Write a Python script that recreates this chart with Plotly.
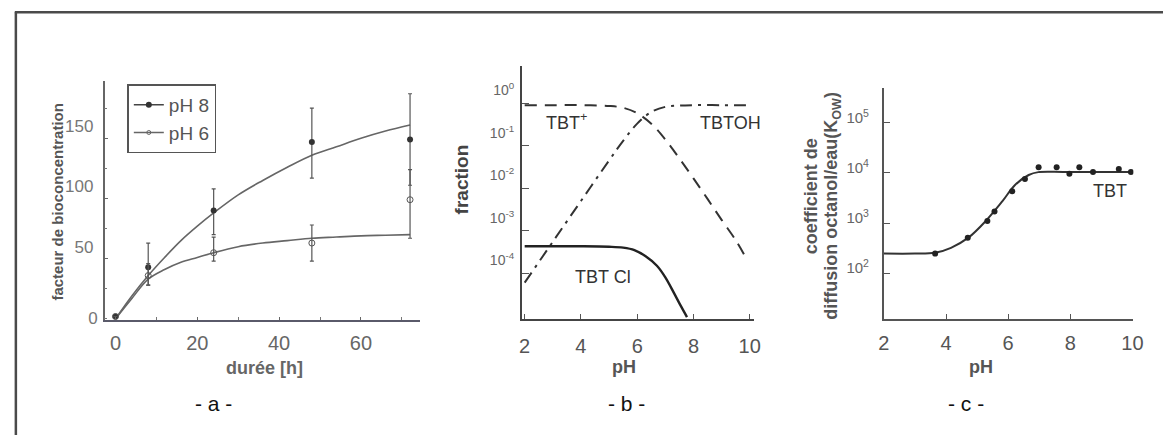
import plotly.graph_objects as go

W, H = 1173, 443

# ---------------- Panel a data ----------------
t_obs = [0, 8, 24, 48, 72]
bcf_ph8 = [2, 43, 90, 147, 149]
bcf_ph8_plus = [0, 20, 18, 28, 38]
bcf_ph8_minus = [0, 15, 20, 30, 38]
bcf_ph6 = [2, 36, 55, 63, 99]
bcf_ph6_plus = [0, 10, 13, 15, 25]
bcf_ph6_minus = [0, 8, 7, 15, 32]

t_fit = [0, 4, 8, 12, 16, 20, 24, 30, 36, 42, 48, 54, 60, 66, 72]
fit_ph8 = [0, 19, 36, 51, 65, 77, 88, 103, 115, 126, 136, 143, 150, 156, 161]
fit_ph6 = [0, 17, 33, 41, 47, 51, 55, 60, 63, 65, 67, 68, 69, 69.5, 70]

a_xticks = [0, 20, 40, 60]
a_yticks = [50, 100, 150]
a_yzero = [0]

# ---------------- Panel b data ----------------
ph_plus = [2, 3, 4, 5, 5.5, 6, 6.5, 7, 7.5, 8, 8.5, 9, 9.5, 9.9]
frac_plus = [0.9, 0.9, 0.9, 0.86, 0.78, 0.58, 0.33, 0.14, 0.05, 0.017, 0.0056, 0.0018, 0.0006, 0.00021]
ph_oh = [2, 3, 4, 5, 5.5, 6, 6.5, 7, 7.5, 8, 9, 10]
frac_oh = [6e-5, 5.5e-4, 5e-3, 0.045, 0.13, 0.33, 0.62, 0.82, 0.88, 0.9, 0.9, 0.9]
ph_cl = [2, 3, 4, 5, 5.5, 5.9, 6.3, 6.7, 7.0, 7.3, 7.55, 7.77]
frac_cl = [4.3e-4, 4.3e-4, 4.3e-4, 4.2e-4, 4.0e-4, 3.5e-4, 2.5e-4, 1.5e-4, 8e-5, 3.5e-5, 1.7e-5, 9.3e-6]

b_xticks = [2, 4, 6, 8, 10]
b_yticks = [1, 0.1, 0.01, 0.001, 0.0001]
b_yticktext = ["10<sup>0</sup>", "10<sup>-1</sup>", "10<sup>-2</sup>", "10<sup>-3</sup>", "10<sup>-4</sup>"]

# ---------------- Panel c data ----------------
ph_kow = [3.65, 4.7, 5.33, 5.56, 6.13, 6.54, 6.98, 7.56, 7.97, 8.29, 8.73, 9.56, 9.95]
kow_obs = [245, 510, 1100, 1700, 4300, 7600, 13000, 13000, 9600, 13000, 10500, 12000, 10500]
ph_kfit = [2.0, 3.0, 3.65, 4.16, 4.72, 5.28, 5.81, 6.22, 6.66, 6.97, 7.78, 9.0, 10.0]
kow_fit = [245, 245, 255, 320, 510, 1100, 2700, 5750, 9100, 10400, 10500, 10500, 10500]

c_xticks = [2, 4, 6, 8, 10]
c_yticks = [1e2, 1e3, 1e4, 1e5]
c_yticktext = ["10<sup>2</sup>", "10<sup>3</sup>", "10<sup>4</sup>", "10<sup>5</sup>"]


def px(x):
    return x / W


def py(y):
    return 1 - y / H


FONT = "Liberation Sans, Arial, sans-serif"
fig = go.Figure()

# ---- panel a traces ----
fig.add_trace(go.Scatter(x=t_fit, y=fit_ph8, mode="lines", line=dict(color="#666", width=1.6, shape="spline"),
                         showlegend=False, xaxis="x", yaxis="y", hoverinfo="skip"))
fig.add_trace(go.Scatter(x=t_fit, y=fit_ph6, mode="lines", line=dict(color="#666", width=1.6, shape="spline"),
                         showlegend=False, xaxis="x", yaxis="y", hoverinfo="skip"))
fig.add_trace(go.Scatter(x=t_obs, y=bcf_ph8, mode="markers",
                         marker=dict(symbol="circle", size=6, color="#333"),
                         error_y=dict(type="data", symmetric=False, array=bcf_ph8_plus, arrayminus=bcf_ph8_minus,
                                      color="#555", thickness=1.2, width=2),
                         showlegend=False, xaxis="x", yaxis="y"))
fig.add_trace(go.Scatter(x=t_obs, y=bcf_ph6, mode="markers",
                         marker=dict(symbol="circle-open", size=6, color="#555", line=dict(width=1)),
                         error_y=dict(type="data", symmetric=False, array=bcf_ph6_plus, arrayminus=bcf_ph6_minus,
                                      color="#555", thickness=1.2, width=2),
                         showlegend=False, xaxis="x", yaxis="y"))
# legend entries (no data; they also register the overlay axis y4 that carries the "0" label)
fig.add_trace(go.Scatter(x=[None], y=[None], mode="lines+markers", name="pH 8",
                         line=dict(color="#444", width=1.6), marker=dict(symbol="circle", size=6, color="#333"),
                         xaxis="x", yaxis="y4"))
fig.add_trace(go.Scatter(x=[None], y=[None], mode="lines+markers", name="pH 6",
                         line=dict(color="#666", width=1.6), marker=dict(symbol="circle-open", size=4, color="#666"),
                         xaxis="x", yaxis="y4"))

# ---- panel b traces ----
fig.add_trace(go.Scatter(x=ph_plus, y=frac_plus, mode="lines",
                         line=dict(color="#333", width=2, dash="12px,8px", shape="spline"),
                         showlegend=False, xaxis="x2", yaxis="y2", hoverinfo="skip"))
fig.add_trace(go.Scatter(x=ph_oh, y=frac_oh, mode="lines",
                         line=dict(color="#333", width=2, dash="12px,6px,3px,6px", shape="spline"),
                         showlegend=False, xaxis="x2", yaxis="y2", hoverinfo="skip"))
fig.add_trace(go.Scatter(x=ph_cl, y=frac_cl, mode="lines",
                         line=dict(color="#222", width=2.4, shape="spline"),
                         showlegend=False, xaxis="x2", yaxis="y2", hoverinfo="skip", cliponaxis=True))

# ---- panel c traces ----
fig.add_trace(go.Scatter(x=ph_kfit, y=kow_fit, mode="lines",
                         line=dict(color="#333", width=2, shape="spline"),
                         showlegend=False, xaxis="x3", yaxis="y3", hoverinfo="skip"))
fig.add_trace(go.Scatter(x=ph_kow, y=kow_obs, mode="markers",
                         marker=dict(symbol="circle", size=6, color="#222"),
                         showlegend=False, xaxis="x3", yaxis="y3"))

axis_common = dict(showline=True, showgrid=False, zeroline=False, mirror=False,
                   ticks="inside", fixedrange=True)

A_YDOM = [py(326), py(82)]
A_YRANGE = [-1, 198]

fig.update_layout(
    width=W, height=H,
    margin=dict(l=0, r=0, t=0, b=0),
    paper_bgcolor="white", plot_bgcolor="rgba(0,0,0,0)",
    font=dict(family=FONT, color="#555"),
    showlegend=True,
    legend=dict(x=px(123), y=py(86), xanchor="left", yanchor="top",
                bordercolor="#555", borderwidth=1.5, bgcolor="white",
                font=dict(size=19, color="#555", family=FONT),
                tracegroupgap=0, itemwidth=30),
    xaxis=dict(axis_common, domain=[px(100), px(420)], range=[-2.65, 74.5],
               tickvals=a_xticks, ticklen=3, linecolor="#5a5a6a", linewidth=1.5, tickcolor="#666",
               tickfont=dict(size=20, color="#666"), ticklabelstandoff=4,
               minor=dict(dtick=10, ticks="inside", ticklen=3, tickcolor="#777"),
               anchor="y"),
    yaxis=dict(axis_common, domain=A_YDOM, range=A_YRANGE,
               tickvals=a_yticks, ticklen=4, linecolor="#666", linewidth=1.5, tickcolor="#666",
               tickfont=dict(size=17, color="#777"), ticklabelstandoff=6, ticklabelshift=-12,
               minor=dict(tickvals=[0, 25, 75, 125, 175], ticks="inside", ticklen=3, tickcolor="#777"),
               anchor="x"),
    yaxis4=dict(overlaying="y", anchor="x", side="left", range=A_YRANGE, showline=False, showgrid=False,
                zeroline=False, ticks="", tickvals=a_yzero, ticklabelstandoff=6, ticklabelshift=-1,
                tickfont=dict(size=17, color="#777"), fixedrange=True),
    xaxis2=dict(axis_common, domain=[px(523), px(758)], range=[1.9, 10.14],
                tickvals=b_xticks, ticklen=5, linecolor="#444", linewidth=1.8, tickcolor="#555",
                tickfont=dict(size=20, color="#555"), ticklabelstandoff=8, anchor="y2"),
    yaxis2=dict(axis_common, type="log", domain=[py(325), py(67)], range=[-5.08, 0.88],
                tickvals=b_yticks, ticktext=b_yticktext, ticklen=7, linecolor="#444", linewidth=1.8,
                tickcolor="#555", tickfont=dict(size=14, color="#666"), ticklabelstandoff=3,
                ticklabelshift=-13, anchor="x2"),
    xaxis3=dict(axis_common, domain=[px(890), px(1143)], range=[2.0, 10.03],
                tickvals=c_xticks, ticklen=5, linecolor="#555", linewidth=1.8, tickcolor="#555",
                tickfont=dict(size=20, color="#555"), ticklabelstandoff=5, anchor="y3"),
    yaxis3=dict(axis_common, type="log", domain=[py(325), py(90)], range=[1.08, 5.69],
                tickvals=c_yticks, ticktext=c_yticktext, ticklen=6, linecolor="#555", linewidth=1.8,
                tickcolor="#555", tickfont=dict(size=15, color="#666"), ticklabelstandoff=10,
                ticklabelshift=-5, anchor="x3"),
)

ann = []


def note(text, x, y, size, color="#555", bold=False, angle=0, family=FONT, xref="paper", yref="paper"):
    if bold:
        text = "<b>" + text + "</b>"
    ann.append(dict(text=text, x=x, y=y, xref=xref, yref=yref, showarrow=False,
                    textangle=angle, xanchor="center", yanchor="middle",
                    font=dict(size=size, color=color, family=family)))


# axis titles
note("facteur de bioconcentration", px(52), py(205), 15, "#555", True, -90)
note("durée [h]", px(262), py(375), 18, "#666", True)
note("fraction", px(462), py(183), 19, "#444", True, -90)
note("pH", px(627), py(374), 18, "#555", True)
note("coefficient de", px(817), py(200), 18, "#555", True, -90)
note("diffusion octanol/eau(K<sub>OW</sub>)", px(838), py(210), 18, "#555", True, -90)
note("pH", px(988), py(374), 18, "#555", True)

# curve labels
note("TBT<sup>+</sup>", 3.47, -0.42, 18, "#333", xref="x2", yref="y2")
note("TBTOH", 9.3, -0.46, 18, "#333", xref="x2", yref="y2")
note("TBT Cl", 4.77, -4.09, 18, "#333", xref="x2", yref="y2")
note("TBT", 9.28, 3.63, 18, "#333", xref="x3", yref="y3")

# panel labels
NARROW = "Liberation Sans Narrow, Arial Narrow, sans-serif"
note("- a -", px(210), py(411), 21, "#111", family=NARROW)
note("- b -", px(629), py(411), 21, "#111", family=NARROW)
note("- c -", px(973), py(411), 21, "#111", family=NARROW)

fig.update_layout(annotations=ann)

# frame (top and left border)
fig.add_shape(type="line", xref="paper", yref="paper", x0=px(9), x1=1, y0=py(12.5), y1=py(12.5),
              line=dict(color="#4a4a4a", width=2.5))
fig.add_shape(type="line", xref="paper", yref="paper", x0=px(10), x1=px(10), y0=py(12), y1=0,
              line=dict(color="#4a4a4a", width=2.5))

fig.write_html("out.html", config={"displayModeBar": False},
               post_script="document.body.style.margin='0';document.body.style.overflow='hidden';")
